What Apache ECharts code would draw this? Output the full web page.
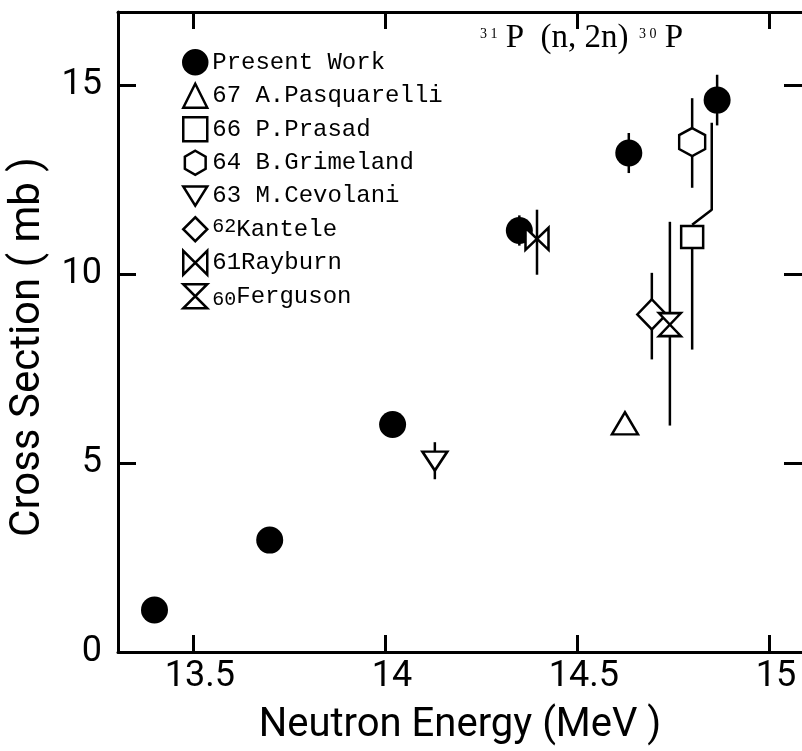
<!DOCTYPE html>
<html>
<head>
<meta charset="utf-8">
<title>31P(n,2n)30P cross section</title>
<script src="https://cdn.jsdelivr.net/npm/echarts@6/dist/echarts.min.js"></script>
<style>
  html, body { margin: 0; padding: 0; background: #fff; }
  #chart { width: 802px; height: 751px; }
</style>
</head>
<body>
<div id="chart"></div>
<script>
// ---- data: neutron energy (MeV), cross section (mb), error limits (mb) ----
const xTicks = [13.5, 14, 14.5, 15];
const yTicks = [0, 5, 10, 15];

// Present work
const presentEnergy = [13.40, 13.70, 14.02, 14.35, 14.635, 14.865];
const presentXS     = [1.11, 2.96, 6.02, 11.15, 13.2, 14.6];
const presentErr    = [0, 0, 0, 0.4, 0.53, 0.67];

// Earlier measurements: [energy, cross section]
const pasquarelli = [14.625, 6.05];
const prasad      = [14.80, 10.98];
const grimeland   = [14.80, 13.49];
const cevolani    = [14.13, 5.05];
const kantele     = [14.695, 8.93];
const rayburn     = [14.396, 10.93];
const ferguson    = [14.742, 8.66];

// Error limits: [energy, low, high]
const prasadLowBar   = [14.80, 8.0, 10.98];
const prasadUpperBar = [[14.80, 11.3], [14.851, 11.7], [14.851, 14.0]]; // displaced upper bar
const grimelandBar   = [14.80, 12.28, 14.65];
const cevolaniBar    = [14.13, 4.57, 5.55];
const kanteleBar     = [14.695, 7.74, 10.03];
const rayburnBar     = [14.396, 9.98, 11.70];
const fergusonBar    = [14.742, 5.99, 11.38];

const seriesNames = ['Present Work', '67 A.Pasquarelli', '66 P.Prasad', '64 B.Grimeland',
                     '63 M.Cevolani', '62 Kantele', '61 Rayburn', '60 Ferguson'];
const legendText = {
  'Present Work': 'Present Work',
  '67 A.Pasquarelli': '67 A.Pasquarelli',
  '66 P.Prasad': '66 P.Prasad',
  '64 B.Grimeland': '64 B.Grimeland',
  '63 M.Cevolani': '63 M.Cevolani',
  '62 Kantele': '{sup|62}Kantele',
  '61 Rayburn': '61Rayburn',
  '60 Ferguson': '{sub|60}Ferguson'
};

// ---- marker shapes ----
const HEXAGON   = 'path://M0,-1 L0.866,-0.5 L0.866,0.5 L0,1 L-0.866,0.5 L-0.866,-0.5 Z';
const DOWN_TRI  = 'path://M0,0 L2,0 L1,1.6 Z';
const BOWTIE    = 'path://M0,0 L0,2 L2,0 L2,2 Z';
const HOURGLASS = 'path://M0,0 L2,0 L0,2 L2,2 Z';

const openStyle = { color: '#fff', borderColor: '#000', borderWidth: 2.5, opacity: 1 };

const errorRows = [];
presentEnergy.forEach((e, i) => {
  if (presentErr[i] > 0) errorRows.push([e, presentXS[i] - presentErr[i], presentXS[i] + presentErr[i]]);
});
[prasadLowBar, grimelandBar, cevolaniBar, kanteleBar, rayburnBar, fergusonBar].forEach(r => errorRows.push(r));

function scatter(name, data, symbol, size, style) {
  return {
    type: 'scatter', name: name, data: data, symbol: symbol, symbolSize: size,
    itemStyle: style, z: 5, emphasis: { disabled: true }
  };
}

const black = '#000';
const axisFont = 'Roboto, "Noto Sans", sans-serif';

const chart = echarts.init(document.getElementById('chart'), null, { renderer: 'canvas' });

const xCommon = {
  type: 'value', min: 13.305, max: 15.086,
  axisLine: { show: true, onZero: false, lineStyle: { color: black, width: 3 } },
  axisTick: { show: true, inside: true, length: 17, customValues: xTicks, lineStyle: { color: black, width: 3 } },
  splitLine: { show: false }
};
const yCommon = {
  type: 'value', min: 0, max: 16.93,
  axisLine: { show: true, onZero: false, lineStyle: { color: black, width: 3 } },
  axisTick: { show: true, inside: true, length: 18, customValues: yTicks, lineStyle: { color: black, width: 3 } },
  splitLine: { show: false }
};

chart.setOption({
  animation: false,
  backgroundColor: '#fff',
  grid: { left: 118, right: 0, top: 12, bottom: 98 },
  xAxis: [
    Object.assign({}, xCommon, {
      position: 'bottom',
      axisLabel: { customValues: xTicks, color: black, fontFamily: axisFont, fontSize: 36, margin: 7,
                   padding: [0, 0, 0, 14], formatter: v => String(v) },
      name: 'Neutron Energy (MeV )', nameLocation: 'middle', nameGap: 54,
      nameTextStyle: { color: black, fontFamily: axisFont, fontSize: 40 }
    }),
    Object.assign({}, xCommon, { position: 'top', axisLabel: { show: false } })
  ],
  yAxis: [
    Object.assign({}, yCommon, {
      position: 'left',
      axisLabel: { customValues: yTicks, color: black, fontFamily: axisFont, fontSize: 36, margin: 16 }
    }),
    Object.assign({}, yCommon, {
      position: 'right',
      axisLine: { show: false },
      axisLabel: { show: false }
    })
  ],
  legend: {
    orient: 'vertical', left: 182, top: 49, padding: 0,
    itemWidth: 24, itemHeight: 24, itemGap: 7,
    selectedMode: false,
    data: seriesNames,
    formatter: name => legendText[name],
    itemStyle: { borderWidth: 2.5, borderColor: black, opacity: 1 },
    textStyle: {
      color: black, fontFamily: '"Liberation Mono", monospace', fontSize: 24, lineHeight: 26,
      rich: {
        sup: { fontFamily: '"Liberation Mono", monospace', fontSize: 20, lineHeight: 8, verticalAlign: 'top', color: black },
        sub: { fontFamily: '"Liberation Mono", monospace', fontSize: 20, lineHeight: 4, verticalAlign: 'bottom', color: black }
      }
    }
  },
  graphic: [
    {
      type: 'text', x: 28, y: 347, rotation: Math.PI / 2, silent: true,
      style: { text: 'Cross Section ( mb )', fill: black, fontFamily: axisFont, fontSize: 42,
               align: 'center', verticalAlign: 'middle' }
    },
    {
      type: 'text', x: 480, y: 38, silent: true,
      style: {
        text: '{s|3 1}{m| P  (n, 2n)}{s|   3 0}{m| P}',
        align: 'left', verticalAlign: 'middle', fill: black,
        fontFamily: '"Liberation Serif", serif', fontSize: 33, lineHeight: 32,
        rich: {
          s: { fontFamily: '"Liberation Serif", serif', fontSize: 14, lineHeight: 14, padding: [5, 0, 0, 0],
               verticalAlign: 'top', fill: black },
          m: { fontFamily: '"Liberation Serif", serif', fontSize: 33, lineHeight: 32, fill: black }
        }
      }
    }
  ],
  series: [
    {
      type: 'custom', name: 'error bars', silent: true, z: 2,
      data: errorRows,
      renderItem: function (params, api) {
        const p1 = api.coord([api.value(0), api.value(1)]);
        const p2 = api.coord([api.value(0), api.value(2)]);
        return { type: 'line', shape: { x1: p1[0], y1: p1[1], x2: p2[0], y2: p2[1] },
                 style: { stroke: black, lineWidth: 2.5 } };
      }
    },
    {
      type: 'line', name: 'prasad upper bar', data: prasadUpperBar, symbol: 'none', silent: true, z: 2,
      lineStyle: { color: black, width: 2.5 }, emphasis: { disabled: true }
    },
    scatter('Present Work', presentEnergy.map((e, i) => [e, presentXS[i]]), 'circle', 27, { color: black, opacity: 1 }),
    scatter('67 A.Pasquarelli', [pasquarelli], 'triangle', [26, 22], openStyle),
    scatter('66 P.Prasad', [prasad], 'rect', [22, 22], openStyle),
    scatter('64 B.Grimeland', [grimeland], HEXAGON, [26, 28], openStyle),
    scatter('63 M.Cevolani', [cevolani], DOWN_TRI, [25, 19], openStyle),
    scatter('62 Kantele', [kantele], 'diamond', [29, 30], openStyle),
    scatter('61 Rayburn', [rayburn], BOWTIE, [23, 22], openStyle),
    scatter('60 Ferguson', [ferguson], HOURGLASS, [22, 23], openStyle)
  ]
});
</script>
</body>
</html>
